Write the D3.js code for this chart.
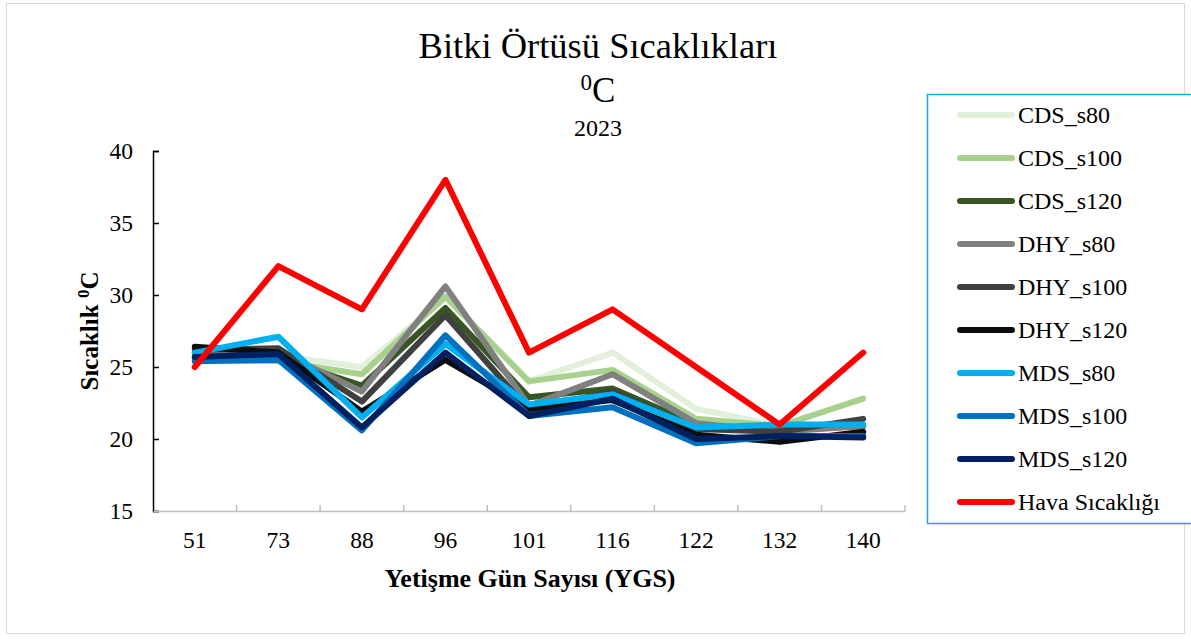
<!DOCTYPE html>
<meta charset="utf-8">
<style>

    body {
        margin: 0;
        background: #fff;
    }

    text {
        font-family: "Liberation Serif", "Times New Roman", serif;
        fill: #000;
    }

    .series {
        fill: none;
        stroke-width: 6px;
        stroke-linejoin: round;
        stroke-linecap: round;
    }

</style>
<svg></svg>
<script src="https://cdn.jsdelivr.net/npm/d3@7"></script>
<script>

    var width = 1191,
        height = 639;

    // days (YGS)
    var days = ["51", "73", "88", "96", "101", "116", "122", "132", "140"];
    var yTicks = [15, 20, 25, 30, 35, 40];

    var names = ["CDS_s80", "CDS_s100", "CDS_s120", "DHY_s80", "DHY_s100", "DHY_s120",
        "MDS_s80", "MDS_s100", "MDS_s120", "Hava Sıcaklığı"];
    var colors = ["#e2efda", "#a9d18e", "#375623", "#808080", "#404040", "#0d0d0d",
        "#00b0f0", "#0070c0", "#002060", "#ff0000"];

    var cds80  = [25.8, 25.8, 25.0, 29.8, 24.0, 26.0, 22.1, 20.9, 21.0];
    var cds100 = [25.5, 25.4, 24.5, 29.9, 24.0, 24.8, 21.4, 20.9, 22.8];
    var cds120 = [25.7, 25.6, 23.7, 29.1, 22.9, 23.5, 21.0, 20.6, 20.9];
    var dhy80  = [26.0, 26.1, 23.3, 30.6, 22.3, 24.5, 21.1, 20.5, 20.9];
    var dhy100 = [26.2, 26.3, 22.6, 28.6, 22.0, 23.3, 20.7, 20.5, 21.4];
    var dhy120 = [26.4, 26.0, 21.9, 25.5, 22.1, 22.7, 20.3, 19.8, 20.5];
    var mds80  = [26.0, 27.1, 21.5, 26.6, 22.4, 23.1, 20.8, 21.0, 21.0];
    var mds100 = [25.4, 25.5, 20.6, 27.2, 21.6, 22.2, 19.7, 20.2, 20.2];
    var mds120 = [25.7, 25.9, 20.8, 26.0, 21.6, 22.8, 20.0, 20.2, 20.1];
    var hava   = [25, 32, 29, 38, 26, 29, 25, 21, 26];

    var values = [cds80, cds100, cds120, dhy80, dhy100, dhy120, mds80, mds100, mds120, hava];

    var plot = {left: 153, right: 905, top: 151, bottom: 511};

    var svg = d3.select("svg")
        .attr("width", width)
        .attr("height", height);

    // outer chart border
    svg.append("rect")
        .attr("x", 6.5).attr("y", 3.5)
        .attr("width", 1178).attr("height", 630)
        .attr("fill", "#fff")
        .attr("stroke", "#d9d9d9");

    var x = d3.scaleBand()
        .domain(days)
        .range([plot.left, plot.right]);

    var y = d3.scaleLinear()
        .domain([15, 40])
        .range([plot.bottom, plot.top]);

    // y axis
    var yAxis = svg.append("g")
        .attr("transform", "translate(" + plot.left + ",0)")
        .call(d3.axisLeft(y).tickValues(yTicks).tickSize(-6).tickPadding(20));
    yAxis.select(".domain").attr("stroke", "#000").attr("stroke-width", 1.5);
    yAxis.selectAll(".tick line").attr("stroke", "#000").attr("stroke-width", 1.5);
    yAxis.selectAll(".tick text")
        .style("font-size", "23.5px")
        .style("font-family", "Liberation Serif");

    // x axis
    var xAxis = svg.append("g")
        .attr("transform", "translate(0," + plot.bottom + ")")
        .call(d3.axisBottom(x).tickSize(0).tickPadding(20));
    xAxis.select(".domain").attr("stroke", "#bfbfbf").attr("stroke-width", 1.5);
    xAxis.selectAll(".tick text")
        .style("font-size", "23.5px")
        .style("font-family", "Liberation Serif");

    // tick marks between categories
    var bounds = days.map(function(d) { return x(d); }).concat([plot.right]);
    svg.append("g").selectAll("line")
        .data(bounds.slice(1))
        .enter().append("line")
        .attr("x1", function(d) { return d; })
        .attr("x2", function(d) { return d; })
        .attr("y1", plot.bottom)
        .attr("y2", plot.bottom - 6)
        .attr("stroke", "#bfbfbf")
        .attr("stroke-width", 1.5);

    var line = d3.line()
        .x(function(d, i) { return x(days[i]) + x.bandwidth() / 2; })
        .y(function(d) { return y(d); });

    svg.append("g").selectAll("path")
        .data(values)
        .enter().append("path")
        .attr("class", "series")
        .attr("stroke", function(d, i) { return colors[i]; })
        .attr("d", line);

    // titles
    svg.append("text")
        .attr("x", 598).attr("y", 58)
        .attr("text-anchor", "middle")
        .style("font-size", "36.5px")
        .text("Bitki Örtüsü Sıcaklıkları");

    var unit = svg.append("text")
        .attr("x", 598).attr("y", 102)
        .attr("text-anchor", "middle")
        .style("font-size", "35px");
    unit.append("tspan").attr("dy", "-12").style("font-size", "23px").text("0");
    unit.append("tspan").attr("dy", "12").text("C");

    svg.append("text")
        .attr("x", 598).attr("y", 136)
        .attr("text-anchor", "middle")
        .style("font-size", "24px")
        .text("2023");

    var yt = svg.append("text")
        .attr("transform", "translate(98,331) rotate(-90)")
        .attr("text-anchor", "middle")
        .style("font-size", "25px")
        .style("font-weight", "bold");
    yt.append("tspan").text("Sıcaklık ");
    yt.append("tspan").attr("dy", "-9").style("font-size", "17px").text("0");
    yt.append("tspan").attr("dy", "9").text("C");

    svg.append("text")
        .attr("x", 530).attr("y", 587)
        .attr("text-anchor", "middle")
        .style("font-size", "26px")
        .style("font-weight", "bold")
        .text("Yetişme Gün Sayısı (YGS)");

    // legend
    svg.append("rect")
        .attr("x", 927.5).attr("y", 94.5)
        .attr("width", 270).attr("height", 429)
        .attr("fill", "#fff")
        .attr("stroke", "#1aa7e6")
        .attr("stroke-width", 1.5);

    var legend = svg.append("g").selectAll("g")
        .data(names)
        .enter().append("g")
        .attr("transform", function(d, i) { return "translate(0," + (115 + i * 43.0) + ")"; });

    legend.append("line")
        .attr("x1", 960).attr("x2", 1012)
        .attr("stroke", function(d, i) { return colors[i]; })
        .attr("stroke-width", 6)
        .attr("stroke-linecap", "round");

    legend.append("text")
        .attr("x", 1018).attr("dy", "0.35em")
        .style("font-size", "24px")
        .text(function(d) { return d; });

</script>
